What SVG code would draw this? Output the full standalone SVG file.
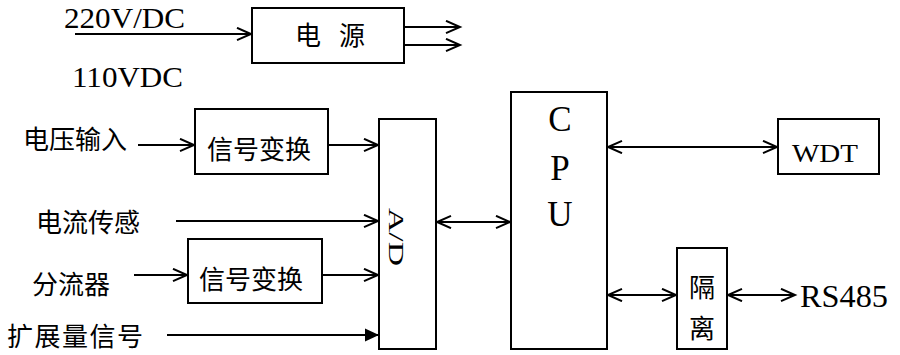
<svg xmlns="http://www.w3.org/2000/svg" width="900" height="355" viewBox="0 0 900 355">
<defs>
<marker id="open" markerUnits="userSpaceOnUse" markerWidth="18" markerHeight="16" refX="15" refY="7" orient="auto-start-reverse">
<path d="M1,0.8 L15,7 L1,13.2" fill="none" stroke="#000" stroke-width="2"/>
</marker>
<marker id="solid" markerUnits="userSpaceOnUse" markerWidth="18" markerHeight="16" refX="14" refY="7" orient="auto">
<path d="M0,0.5 L14,7 L0,13.5 Z" fill="#000"/>
</marker>
<style>
.box{fill:#fff;stroke:#000;stroke-width:2}
.ln{fill:none;stroke:#000;stroke-width:2}
.cn{font-family:"Noto Sans CJK SC","Noto Sans CJK JP",sans-serif;font-size:26px;fill:#000}
.lt{font-family:"Liberation Serif","Times New Roman",serif;fill:#000}
</style>
</defs>
<g id="connectors">
<line class="ln" x1="75" y1="34" x2="251" y2="34" marker-end="url(#open)"/>
<line class="ln" x1="404" y1="27" x2="460" y2="27" marker-end="url(#open)"/>
<line class="ln" x1="404" y1="45" x2="460" y2="45" marker-end="url(#open)"/>
<line class="ln" x1="138" y1="145" x2="194" y2="145" marker-end="url(#open)"/>
<line class="ln" x1="328" y1="145" x2="378" y2="145" marker-end="url(#open)"/>
<line class="ln" x1="176" y1="221" x2="378" y2="221" marker-end="url(#open)"/>
<line class="ln" x1="134" y1="275" x2="187" y2="275" marker-end="url(#open)"/>
<line class="ln" x1="322" y1="275" x2="378" y2="275" marker-end="url(#open)"/>
<line class="ln" x1="167" y1="335" x2="379" y2="335" marker-end="url(#solid)"/>
<line class="ln" x1="437" y1="222" x2="510" y2="222" marker-start="url(#open)" marker-end="url(#open)"/>
<line class="ln" x1="608" y1="147" x2="777" y2="147" marker-start="url(#open)" marker-end="url(#open)"/>
<line class="ln" x1="608" y1="295" x2="676" y2="295" marker-start="url(#open)" marker-end="url(#open)"/>
<line class="ln" x1="728" y1="295" x2="795" y2="295" marker-start="url(#open)" marker-end="url(#open)"/>
</g>
<g id="labels">
<text class="lt" x="64" y="28" font-size="30" textLength="121" lengthAdjust="spacingAndGlyphs">220V/DC</text>
<text class="lt" x="72" y="87" font-size="30" textLength="111" lengthAdjust="spacingAndGlyphs">110VDC</text>
<text class="cn" x="23" y="149">电压输入</text>
<text class="cn" x="36" y="232">电流传感</text>
<text class="cn" x="32" y="294">分流器</text>
<text class="cn" x="7" y="346" font-size="25" textLength="136" lengthAdjust="spacing">扩展量信号</text>
<text class="lt" x="800" y="307" font-size="32" textLength="88" lengthAdjust="spacingAndGlyphs">RS485</text>
</g>
<g id="power">
<rect class="box" x="252" y="8" width="152" height="55"/>
<text class="cn" y="45" font-size="21"><tspan x="295">电 </tspan><tspan x="339">源</tspan></text>
</g>
<g id="conv1">
<rect class="box" x="195" y="109" width="133" height="65"/>
<text class="cn" x="207" y="159">信号变换</text>
</g>
<g id="conv2">
<rect class="box" x="188" y="239" width="134" height="64"/>
<text class="cn" x="199" y="289">信号变换</text>
</g>
<g id="ad">
<rect class="box" x="379" y="119" width="57" height="230"/>
<text class="lt" font-size="20" transform="translate(389,237) rotate(90)" text-anchor="middle" textLength="58" lengthAdjust="spacingAndGlyphs">A/D</text>
</g>
<g id="cpu">
<rect class="box" x="511" y="92" width="96" height="257"/>
<text class="lt" font-size="35" text-anchor="middle"><tspan x="560" y="131">C</tspan><tspan x="560" y="180">P</tspan><tspan x="560" y="226">U</tspan></text>
</g>
<g id="wdt">
<rect class="box" x="778" y="119" width="101" height="55"/>
<text class="lt" x="792" y="162" font-size="26" textLength="66" lengthAdjust="spacingAndGlyphs">WDT</text>
</g>
<g id="isolation">
<rect class="box" x="677" y="248" width="50" height="101"/>
<text class="cn" font-size="24" text-anchor="middle"><tspan x="702" y="297">隔</tspan><tspan x="702" y="338">离</tspan></text>
</g>
</svg>
